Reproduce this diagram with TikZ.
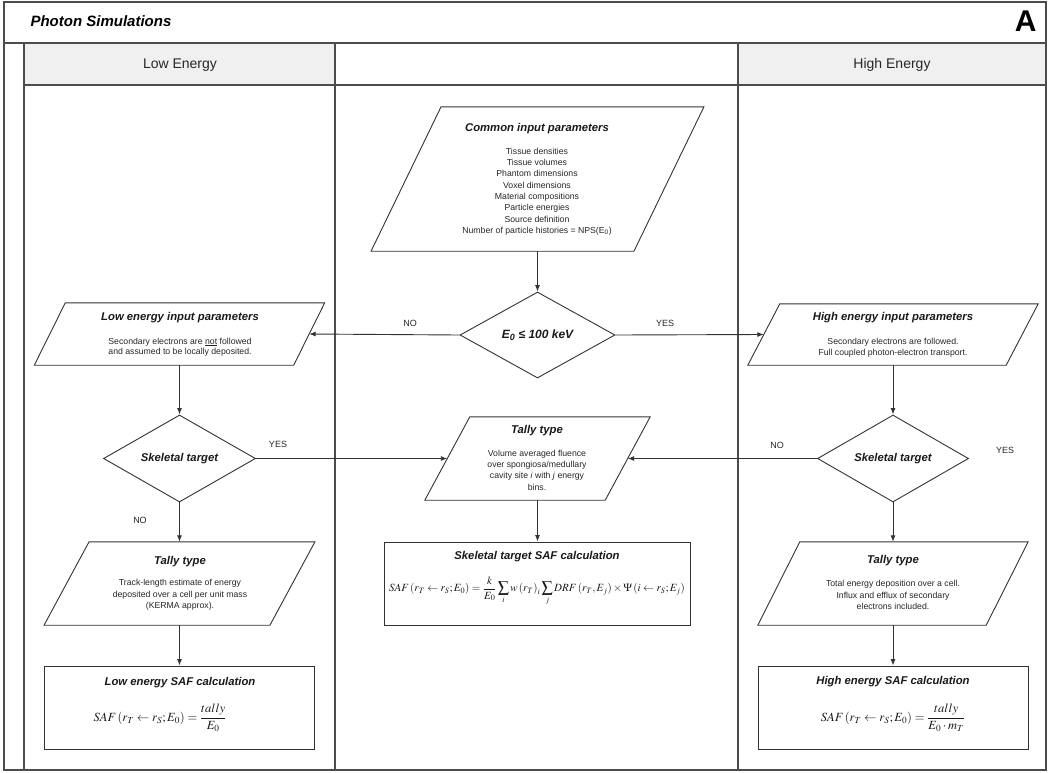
\documentclass[tikz,border=0pt]{standalone}
\usepackage{amsmath}
\usepackage{mathptmx}
\usepackage[no-math]{fontspec}
\setmainfont{Liberation Sans}
\usetikzlibrary{shapes.geometric,arrows.meta}

\tikzset{
  frameline/.style={draw=black!70, line width=1.8pt},
  gridline/.style={draw=black!70, line width=1.4pt},
  hdrfill/.style={fill=black!6},
  outl/.style={draw=black!80, line width=0.9pt},
  box/.style={outl, rectangle, inner sep=0pt},
  para/.style={rectangle, inner sep=0pt, draw=none},
  dec/.style={outl, diamond, aspect=1.75, inner sep=0pt, text=black!90,
    font=\fontsize{11.3}{13}\selectfont\bfseries\itshape},
  arr/.style={draw=black!80, line width=0.9pt, -{Latex[length=6.5pt,width=5pt]}},
  ttl/.style={font=\fontsize{11.3}{13}\selectfont\bfseries\itshape, text=black!90},
  body/.style={font=\fontsize{8.7}{11.3}\selectfont, align=center, text=black!85},
  lbl/.style={font=\fontsize{9}{11}\selectfont, text=black!85},
  hdr/.style={font=\fontsize{14}{16}\selectfont, text=black!85},
  frm/.style={font=\fontsize{11}{13}\selectfont, text=black!90},
}
\newcommand\drawpara[2]{\draw[outl] ([xshift=#2pt]#1.north west) -- ([xshift=#2pt]#1.north east) -- ([xshift=-#2pt]#1.south east) -- ([xshift=-#2pt]#1.south west) -- cycle;}

\begin{document}
\begin{tikzpicture}[x=1pt,y=-1pt]
\useasboundingbox (0,0) rectangle (1050,772);
% frame
\fill[hdrfill] (24,43) rectangle (335,85);
\fill[hdrfill] (738,43) rectangle (1046,85);
\draw[gridline] (4,43) -- (1046,43);
\draw[gridline] (24,85) -- (1046,85);
\draw[gridline] (24,43) -- (24,770);
\draw[gridline] (335,43) -- (335,770);
\draw[gridline] (738,43) -- (738,770);
\draw[frameline] (4,2) rectangle (1046,770);

\node[anchor=west, font=\fontsize{15}{17}\selectfont\bfseries\itshape] (ttlmain) at (27,21) {Photon Simulations};
\node[anchor=east, font=\fontsize{30}{32}\selectfont\bfseries] (letter) at (1040,21) {A};
\node[hdr] (hlow) at (180,65) {Low Energy};
\node[hdr] (hhigh) at (892,65) {High Energy};

% parallelograms
\node[para, minimum width=262.5pt, minimum height=144pt] (common) at (537.5,179) {};
\drawpara{common}{35}
\node[ttl] (commont) at (537,129) {Common input parameters};
\node[body] (commonb) at (537,191.5) {Tissue densities\\Tissue volumes\\Phantom dimensions\\Voxel dimensions\\Material compositions\\Particle energies\\Source definition\\Number of particle histories = NPS(E\textsubscript{0})};

\node[para, minimum width=259pt, minimum height=62pt] (lowp) at (179.5,334) {};
\drawpara{lowp}{15.5}
\node[ttl] (lowpt) at (180,318) {Low energy input parameters};
\node[body, font=\fontsize{8.7}{10.5}\selectfont] (lowpb) at (180,347) {Secondary electrons are \underline{not} followed\\and assumed to be locally deposited.};

\node[para, minimum width=258pt, minimum height=61pt] (highp) at (893,334.5) {};
\drawpara{highp}{16}
\node[ttl] (highpt) at (893,318) {High energy input parameters};
\node[body, font=\fontsize{8.7}{10.5}\selectfont] (highpb) at (893,347.5) {Secondary electrons are followed.\\Full coupled photon-electron transport.};

\node[para, minimum width=180pt, minimum height=83pt] (tallyc) at (537.5,458.5) {};
\drawpara{tallyc}{22.5}
\node[ttl] (tallyct) at (537,431) {Tally type};
\node[body] (tallycb) at (537,470) {Volume averaged fluence\\over spongiosa/medullary\\cavity site \textit{i} with \textit{j} energy\\bins.};

\node[para, minimum width=225.5pt, minimum height=83pt] (tallyl) at (179.5,583.5) {};
\drawpara{tallyl}{22.5}
\node[ttl] (tallylt) at (180,562) {Tally type};
\node[body] (tallylb) at (180,595) {Track-length estimate of energy\\deposited over a cell per unit mass\\(KERMA approx).};

\node[para, minimum width=228pt, minimum height=83pt] (tallyr) at (893,583.5) {};
\drawpara{tallyr}{21}
\node[ttl] (tallyrt) at (893,561) {Tally type};
\node[body] (tallyrb) at (893,595) {Total energy deposition over a cell.\\Influx and efflux of secondary\\electrons included.};

% decisions
\node[dec, minimum width=155pt, minimum height=86pt, font=\fontsize{12}{14}\selectfont\bfseries\itshape] (e0) at (537.5,335) {E\textsubscript{0} ≤ 100 keV};
\node[dec, minimum width=152pt, minimum height=87pt] (skl) at (179.5,458.5) {Skeletal target};
\node[dec, minimum width=151pt, minimum height=87pt] (skr) at (893,458.5) {Skeletal target};

% boxes
\node[box, minimum width=306pt, minimum height=83pt] (safc) at (537.5,583.5) {};
\node[ttl] (safct) at (537,557) {Skeletal target SAF calculation};
\node[frm] (safcf) at (537,591) {$SAF\left(r_T\leftarrow r_S;E_0\right)=\dfrac{k}{E_0}\displaystyle\sum_i w\left(r_T\right)_i\sum_j DRF\left(r_T,E_j\right)\times\Psi\left(i\leftarrow r_S;E_j\right)$};

\node[box, minimum width=270pt, minimum height=83pt] (safl) at (179.5,707.5) {};
\node[ttl] (saflt) at (180,683) {Low energy SAF calculation};
\node[frm, font=\fontsize{12.5}{14}\selectfont] (saflf) at (160,718) {$SAF\left(r_T\leftarrow r_S;E_0\right)=\dfrac{tally}{E_0}$};

\node[box, minimum width=270pt, minimum height=83pt] (safh) at (893,707.5) {};
\node[ttl] (safht) at (893,682) {High energy SAF calculation};
\node[frm, font=\fontsize{12.5}{14}\selectfont] (safhf) at (893,718) {$SAF\left(r_T\leftarrow r_S;E_0\right)=\dfrac{tally}{E_0\cdot m_T}$};

% connectors
\draw[arr] (common.south) -- (e0.north);
\draw[arr] (e0.west) -- (lowp.east);
\draw[arr] (e0.east) -- (highp.west);
\draw[arr] (lowp.south) -- (skl.north);
\draw[arr] (highp.south) -- (skr.north);
\draw[arr] (skl.east) -- (tallyc.west);
\draw[arr] (skr.west) -- (tallyc.east);
\draw[arr] (skl.south) -- (tallyl.north);
\draw[arr] (skr.south) -- (tallyr.north);
\draw[arr] (tallyc.south) -- (safc.north);
\draw[arr] (tallyl.south) -- (safl.north);
\draw[arr] (tallyr.south) -- (safh.north);

% labels
\node[lbl] (l1) at (410,323) {NO};
\node[lbl] (l2) at (665,323) {YES};
\node[lbl] (l3) at (278,444) {YES};
\node[lbl] (l4) at (140,520) {NO};
\node[lbl] (l5) at (777,445) {NO};
\node[lbl] (l6) at (1005,450) {YES};
\end{tikzpicture}
\end{document}
